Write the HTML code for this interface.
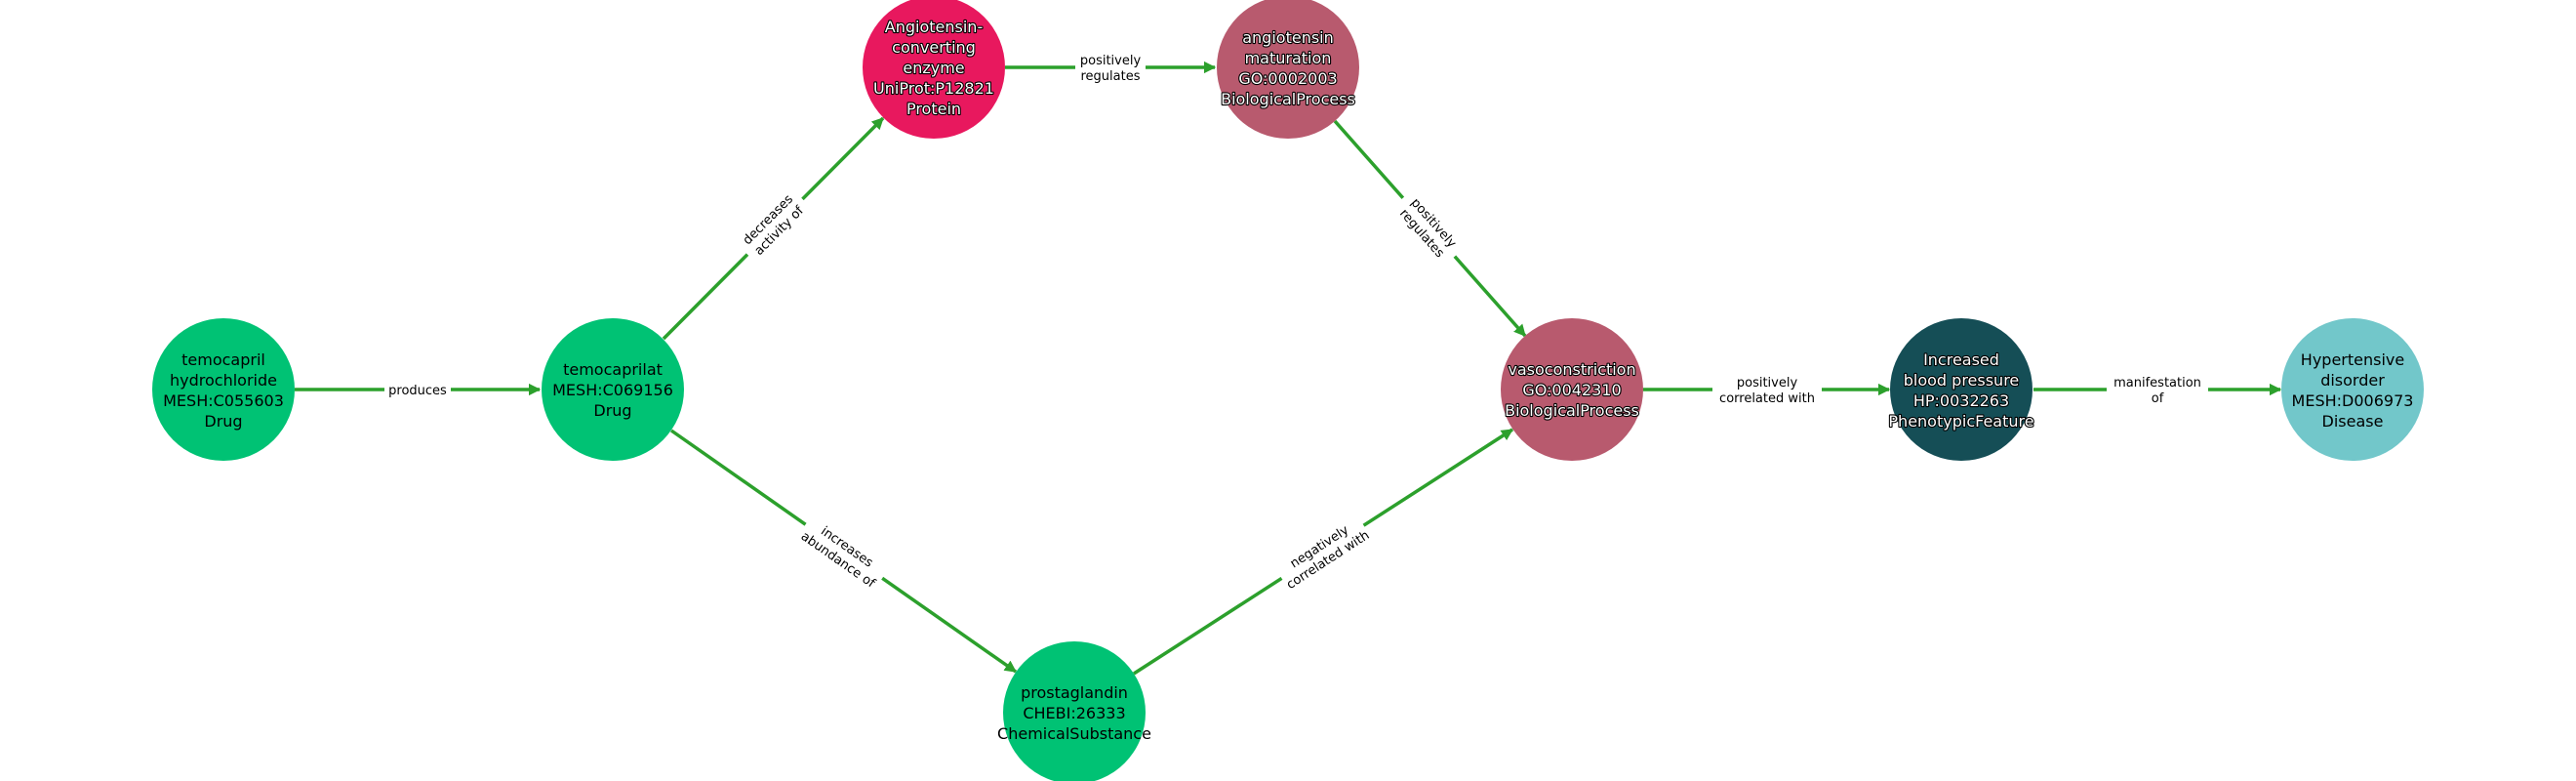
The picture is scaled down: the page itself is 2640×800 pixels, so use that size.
<!DOCTYPE html>
<html><head><meta charset="utf-8"><style>
html,body{margin:0;padding:0;background:#fff;}
svg{display:block;}
.n{font-family:"DejaVu Sans","Liberation Sans",sans-serif;font-size:16px;text-anchor:middle;}
.w{fill:#fff;stroke:#000;stroke-width:2.2;paint-order:stroke;stroke-linejoin:round;}
.b{fill:#000;}
.e{font-family:"DejaVu Sans","Liberation Sans",sans-serif;font-size:13px;text-anchor:middle;fill:#000;}
line{stroke:#2ca02c;stroke-width:3.5;}
</style></head><body>
<svg width="2640" height="800" viewBox="0 0 2640 800" xmlns="http://www.w3.org/2000/svg">
<defs>
<marker id="a" viewBox="0 0 10 10" refX="9" refY="5" markerWidth="3.5" markerHeight="3.5" orient="auto" markerUnits="strokeWidth">
<path d="M0,0 L10,5 L0,10 z" fill="#2ca02c"/>
</marker>
</defs>
<line x1="302" y1="399" x2="553" y2="399" marker-end="url(#a)"/>
<line x1="680" y1="347" x2="905" y2="121" marker-end="url(#a)"/>
<line x1="688" y1="441" x2="1041" y2="688" marker-end="url(#a)"/>
<line x1="1030" y1="69" x2="1245" y2="69" marker-end="url(#a)"/>
<line x1="1368" y1="124" x2="1563" y2="344" marker-end="url(#a)"/>
<line x1="1162" y1="690" x2="1550" y2="440" marker-end="url(#a)"/>
<line x1="1684" y1="399" x2="1936" y2="399" marker-end="url(#a)"/>
<line x1="2084" y1="399" x2="2337" y2="399" marker-end="url(#a)"/>
<g transform="translate(428,399)"><rect x="-34" y="-10" width="68" height="20" fill="#fff"/><text class="e" y="5">produces</text></g>
<g transform="translate(792,230) rotate(-45)"><rect x="-40" y="-18" width="80" height="36" fill="#fff"/><text class="e" y="-3">decreases</text><text class="e" y="13">activity of</text></g>
<g transform="translate(864,566) rotate(35)"><rect x="-48" y="-18" width="96" height="36" fill="#fff"/><text class="e" y="-3">increases</text><text class="e" y="13">abundance of</text></g>
<g transform="translate(1138,69)"><rect x="-36" y="-18" width="72" height="36" fill="#fff"/><text class="e" y="-3">positively</text><text class="e" y="13">regulates</text></g>
<g transform="translate(1464,233) rotate(48.5)"><rect x="-40" y="-18" width="80" height="36" fill="#fff"/><text class="e" y="-3">positively</text><text class="e" y="13">regulates</text></g>
<g transform="translate(1356,566) rotate(-33)"><rect x="-50" y="-18" width="100" height="36" fill="#fff"/><text class="e" y="-3">negatively</text><text class="e" y="13">correlated with</text></g>
<g transform="translate(1811,399)"><rect x="-56" y="-18" width="112" height="36" fill="#fff"/><text class="e" y="-3">positively</text><text class="e" y="13">correlated with</text></g>
<g transform="translate(2211,399)"><rect x="-52" y="-18" width="104" height="36" fill="#fff"/><text class="e" y="-3">manifestation</text><text class="e" y="13">of</text></g>
<circle cx="229" cy="399" r="73" fill="#00c274"/>
<text class="n b"><tspan x="229" y="374">temocapril</tspan><tspan x="229" y="395">hydrochloride</tspan><tspan x="229" y="416">MESH:C055603</tspan><tspan x="229" y="437">Drug</tspan></text>
<circle cx="628" cy="399" r="73" fill="#00c274"/>
<text class="n b"><tspan x="628" y="384">temocaprilat</tspan><tspan x="628" y="405">MESH:C069156</tspan><tspan x="628" y="426">Drug</tspan></text>
<circle cx="957" cy="69" r="73" fill="#e8185e"/>
<text class="n w"><tspan x="957" y="33">Angiotensin-</tspan><tspan x="957" y="54">converting</tspan><tspan x="957" y="75">enzyme</tspan><tspan x="957" y="96">UniProt:P12821</tspan><tspan x="957" y="117">Protein</tspan></text>
<circle cx="1320" cy="69" r="73" fill="#b85a6e"/>
<text class="n w"><tspan x="1320" y="44">angiotensin</tspan><tspan x="1320" y="65">maturation</tspan><tspan x="1320" y="86">GO:0002003</tspan><tspan x="1320" y="107">BiologicalProcess</tspan></text>
<circle cx="1611" cy="399" r="73" fill="#b85a6e"/>
<text class="n w"><tspan x="1611" y="384">vasoconstriction</tspan><tspan x="1611" y="405">GO:0042310</tspan><tspan x="1611" y="426">BiologicalProcess</tspan></text>
<circle cx="1101" cy="730" r="73" fill="#00c274"/>
<text class="n b"><tspan x="1101" y="715">prostaglandin</tspan><tspan x="1101" y="736">CHEBI:26333</tspan><tspan x="1101" y="757">ChemicalSubstance</tspan></text>
<circle cx="2010" cy="399" r="73" fill="#154e56"/>
<text class="n w"><tspan x="2010" y="374">Increased</tspan><tspan x="2010" y="395">blood pressure</tspan><tspan x="2010" y="416">HP:0032263</tspan><tspan x="2010" y="437">PhenotypicFeature</tspan></text>
<circle cx="2411" cy="399" r="73" fill="#72c7ca"/>
<text class="n b"><tspan x="2411" y="374">Hypertensive</tspan><tspan x="2411" y="395">disorder</tspan><tspan x="2411" y="416">MESH:D006973</tspan><tspan x="2411" y="437">Disease</tspan></text>
</svg>
</body></html>
